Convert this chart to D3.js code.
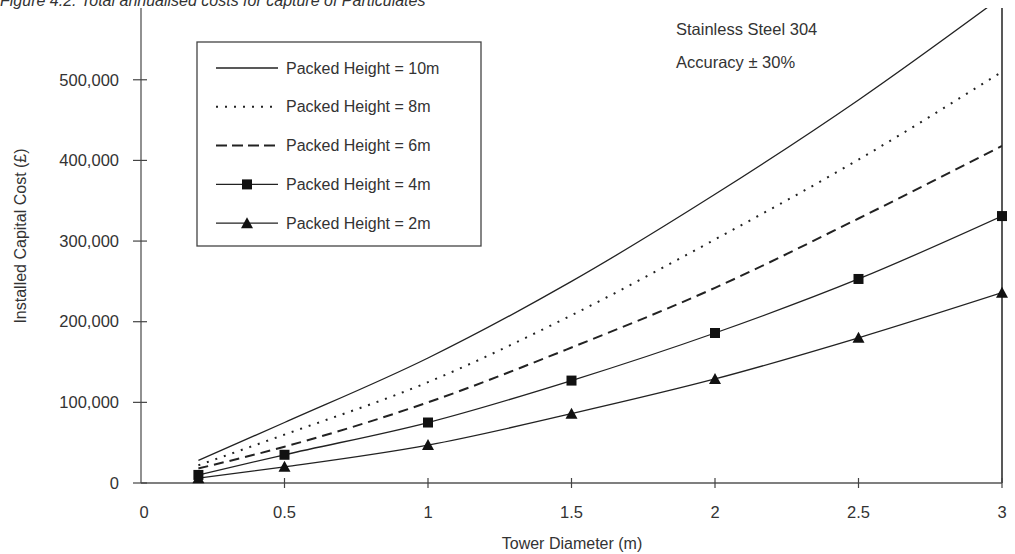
<!DOCTYPE html>
<html>
<head>
<meta charset="utf-8">
<script src="https://cdn.jsdelivr.net/npm/d3@7"></script>
<style>
  body { margin: 0; background: #fff; }
  svg { font-family: "Liberation Sans", Arial, sans-serif; }
</style>
</head>
<body>
<script>
var w = 1015;
var h = 554;

// tower diameter (m)
var diameters = [0.2, 0.5, 1, 1.5, 2, 2.5, 3];

// installed capital cost (£) per packed height
var h10 = [28000, 75000, 155000, 250000, 358000, 475000, 603000];
var h8  = [22000, 60000, 125000, 208000, 302000, 401000, 510000];
var h6  = [18000, 45000, 100000, 168000, 242000, 328000, 418000];
var h4  = [10000, 35000, 75000, 127000, 186000, 253000, 331000];
var h2  = [6000, 20000, 47000, 86000, 129000, 180000, 236000];

var seriesNames = ["Packed Height = 10m", "Packed Height = 8m", "Packed Height = 6m",
                   "Packed Height = 4m", "Packed Height = 2m"];
var xTicks = [0, 0.5, 1, 1.5, 2, 2.5, 3];
var yTicks = [0, 100000, 200000, 300000, 400000, 500000];

var styles = [
  {dash: null, width: 1.3, marker: null},
  {dash: "2,7", width: 2, marker: null},
  {dash: "10,6", width: 2, marker: null},
  {dash: null, width: 1.3, marker: "square"},
  {dash: null, width: 1.3, marker: "triangle"}
];
var allSeries = [h10, h8, h6, h4, h2];

var ink = "#222";
var textCol = "#333";

var svg = d3.select("body").append("svg")
  .attr("width", w)
  .attr("height", h);

var x = d3.scaleLinear().domain([0, 3]).range([141, 1002]);
var y = d3.scaleLinear().domain([0, 589000]).range([483, 8]);

svg.append("clipPath").attr("id", "plot")
  .append("rect")
  .attr("x", x(0)).attr("y", y.range()[1])
  .attr("width", x(3) - x(0)).attr("height", y(0) - y.range()[1]);

// caption, cut off at the top
svg.append("text")
  .attr("x", 0).attr("y", 6)
  .attr("font-size", "16px")
  .attr("font-style", "italic")
  .attr("fill", textCol)
  .text("Figure 4.2: Total annualised costs for capture of Particulates");

// axes frame
svg.append("line")
  .attr("x1", x(0)).attr("x2", x(0))
  .attr("y1", y.range()[1]).attr("y2", y(0))
  .attr("stroke", "#555").attr("stroke-width", 1.3);
svg.append("line")
  .attr("x1", x(3)).attr("x2", x(3))
  .attr("y1", y.range()[1]).attr("y2", y(0))
  .attr("stroke", ink).attr("stroke-width", 1.5);
svg.append("line")
  .attr("x1", x(0)).attr("x2", x(3))
  .attr("y1", y(0)).attr("y2", y(0))
  .attr("stroke", "#555").attr("stroke-width", 1.3);

// y ticks
var yt = svg.selectAll(".yt").data(yTicks).enter().append("g");
yt.append("line")
  .attr("x1", x(0) - 8).attr("x2", x(0) + 6)
  .attr("y1", function(d){ return y(d); })
  .attr("y2", function(d){ return y(d); })
  .attr("stroke", "#444").attr("stroke-width", 1.2);
yt.append("text")
  .attr("x", 119)
  .attr("y", function(d){ return y(d); })
  .attr("dy", "0.35em")
  .attr("text-anchor", "end")
  .attr("font-size", "16.5px")
  .attr("fill", textCol)
  .text(function(d){ return d3.format(",")(d); });

// x ticks
var xt = svg.selectAll(".xt").data(xTicks).enter().append("g");
xt.append("line")
  .attr("x1", function(d){ return x(d); })
  .attr("x2", function(d){ return x(d); })
  .attr("y1", y(0) - 5).attr("y2", y(0) + 5)
  .attr("stroke", "#444").attr("stroke-width", 1.2)
  .attr("display", function(d){ return d == 0 ? "none" : null; });
xt.append("text")
  .attr("x", function(d){ return d == 0 ? x(d) + 3 : x(d); })
  .attr("y", 512)
  .attr("dy", "0.35em")
  .attr("text-anchor", "middle")
  .attr("font-size", "16.5px")
  .attr("fill", textCol)
  .text(function(d){ return d; });

// axis titles
svg.append("text")
  .attr("x", 572).attr("y", 543)
  .attr("dy", "0.35em")
  .attr("text-anchor", "middle")
  .attr("font-size", "16px")
  .attr("fill", textCol)
  .text("Tower Diameter (m)");
svg.append("text")
  .attr("transform", "translate(20,236) rotate(-90)")
  .attr("dy", "0.35em")
  .attr("text-anchor", "middle")
  .attr("font-size", "16px")
  .attr("fill", textCol)
  .text("Installed Capital Cost (£)");

// notes
svg.append("text")
  .attr("x", 676).attr("y", 29).attr("dy", "0.35em")
  .attr("font-size", "16.5px").attr("fill", textCol)
  .text("Stainless Steel 304");
svg.append("text")
  .attr("x", 676).attr("y", 62).attr("dy", "0.35em")
  .attr("font-size", "16.5px").attr("fill", textCol)
  .text("Accuracy ± 30%");

// series lines
var line = d3.line()
  .x(function(d, i){ return x(diameters[i]); })
  .y(function(d){ return y(d); })
  .curve(d3.curveMonotoneX);

var plot = svg.append("g").attr("clip-path", "url(#plot)");

function drawMarker(g, type, cx, cy) {
  if (type == "square") {
    g.append("rect")
      .attr("x", cx - 5).attr("y", cy - 5)
      .attr("width", 10).attr("height", 10)
      .attr("fill", "#111");
  } else if (type == "triangle") {
    g.append("path")
      .attr("d", "M" + cx + "," + (cy - 6) + "L" + (cx + 6) + "," + (cy + 5) + "L" + (cx - 6) + "," + (cy + 5) + "Z")
      .attr("fill", "#111");
  }
}

allSeries.forEach(function(vals, k){
  var s = styles[k];
  plot.append("path")
    .datum(vals)
    .attr("d", line)
    .attr("fill", "none")
    .attr("stroke", ink)
    .attr("stroke-width", s.width)
    .attr("stroke-dasharray", s.dash);
  if (s.marker) {
    vals.forEach(function(v, i){
      drawMarker(svg, s.marker, x(diameters[i]), y(v));
    });
  }
});

// legend
var lg = svg.append("g");
lg.append("rect")
  .attr("x", 197).attr("y", 42)
  .attr("width", 284).attr("height", 204)
  .attr("fill", "#fff")
  .attr("stroke", "#444").attr("stroke-width", 1.3);

seriesNames.forEach(function(name, k){
  var s = styles[k];
  var ly = 68 + k * 38.8;
  lg.append("line")
    .attr("x1", 216).attr("x2", 278)
    .attr("y1", ly).attr("y2", ly)
    .attr("stroke", ink)
    .attr("stroke-width", s.width)
    .attr("stroke-dasharray", s.dash == "10,6" ? "11,5" : s.dash);
  if (s.marker) drawMarker(lg, s.marker, 247, ly);
  lg.append("text")
    .attr("x", 286).attr("y", ly)
    .attr("dy", "0.35em")
    .attr("font-size", "16px")
    .attr("fill", textCol)
    .text(name);
});
</script>
</body>
</html>
